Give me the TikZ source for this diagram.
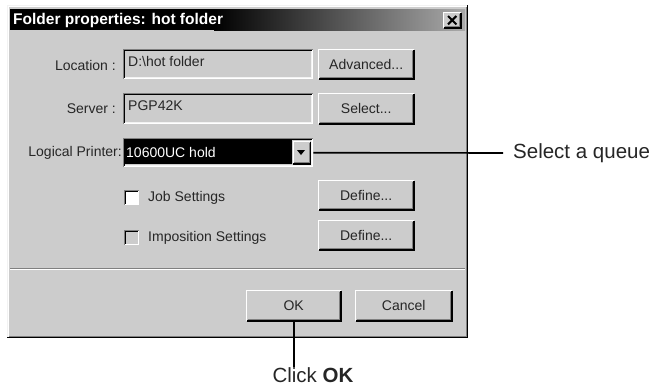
\documentclass[tikz,border=0pt]{standalone}
\usepackage{fontspec}
\setmainfont{Liberation Sans}
\begin{document}
\begin{tikzpicture}[x=1bp,y=-1bp,
  dlgtext/.style={font=\fontsize{14bp}{16bp}\selectfont, text=black!85, inner sep=0pt},
  callout/.style={font=\fontsize{20.5bp}{24bp}\selectfont, text=black!85, inner sep=0pt},
  btn/.style={fill=wingray, draw=none, inner sep=0pt, anchor=north west,
    font=\fontsize{14bp}{16bp}\selectfont, text=black!85},
  field/.style={fill=wingray, draw=none, inner sep=0pt, anchor=north west},
  leader/.style={line width=1.6pt, black}
]
\definecolor{wingray}{RGB}{204,204,204}
\definecolor{windark}{RGB}{128,128,128}
\useasboundingbox (0,0) rectangle (654,391);
\fill[white] (0,0) rectangle (654,391);
% dialog frame
\fill[wingray] (7,5) rectangle (468,338);
\draw[line width=1bp, white!90!gray] (7.5,337.5) |- (467.5,5.5);
\draw[line width=1bp, white] (8.5,336.5) |- (466.5,6.5);
\draw[line width=1.2bp, black] (7,337.5) -| (467.5,5);
\draw[line width=1bp, windark] (8.5,336.5) -| (466.5,6.5);
% title bar
\fill[black] (10,9) rectangle (215,30);
\shade[left color=black, right color={rgb,255:red,170;green,170;blue,170}] (214,9) rectangle (465,30);
\node[anchor=west, inner sep=0pt, text=white, font=\bfseries\fontsize{15.5bp}{17bp}\selectfont] (title) at (13,20) {Folder properties: hot folder};
% close button
\node[btn, minimum width=18bp, minimum height=16bp] (close) at (443,12) {};
\draw[line width=2bp, black] ([shift={(5,4)}]close.north west) -- ([shift={(-5,-4)}]close.south east);
\draw[line width=2bp, black] ([shift={(-5,4)}]close.north east) -- ([shift={(5,-4)}]close.south west);
% labels
\node[dlgtext, anchor=east] (loclbl) at (116,65) {Location :};
\node[dlgtext, anchor=east] (srvlbl) at (116,109) {Server :};
\node[dlgtext, anchor=east] (prnlbl) at (122,153) {Logical Printer:};
% fields
\node[field, minimum width=190bp, minimum height=30bp] (locfld) at (123,49) {};
\node[dlgtext, anchor=west] (loctxt) at (128,61) {D:\textbackslash hot folder};
\node[field, minimum width=190bp, minimum height=31bp] (srvfld) at (123,93) {};
\node[dlgtext, anchor=west] (srvtxt) at (128,106) {PGP42K};
\node[field, minimum width=190bp, minimum height=29bp] (prnfld) at (123,138) {};
\fill[black] (125,140) rectangle (292,164);
\node[dlgtext, anchor=west, text=white] (prntxt) at (126,152.5) {10600UC hold};
\node[btn, minimum width=18bp, minimum height=23bp] (arrow) at (292.5,141) {};
\fill[black] (297,150) -- (305,150) -- (301,155) -- cycle;
% sunken edges
\foreach \f in {locfld,srvfld,prnfld}{
  \draw[line width=1bp, windark] ([shift={(0.5,-0.5)}]\f.south west) |- ([shift={(-0.5,0.5)}]\f.north east);
  \draw[line width=1bp, black] ([shift={(1.5,-1.5)}]\f.south west) |- ([shift={(-1.5,1.5)}]\f.north east);
  \draw[line width=1bp, white] ([shift={(0.5,-0.5)}]\f.south west) -| ([shift={(-0.5,0.5)}]\f.north east);
  \draw[line width=1bp, white!90!gray] ([shift={(1.5,-1.5)}]\f.south west) -| ([shift={(-1.5,1.5)}]\f.north east);
}
% buttons
\node[btn, minimum width=96bp, minimum height=30bp] (adv) at (318,49) {Advanced...};
\node[btn, minimum width=96bp, minimum height=31bp] (sel) at (318,93) {Select...};
\node[btn, minimum width=96bp, minimum height=30bp] (def1) at (318,180) {Define...};
\node[btn, minimum width=96bp, minimum height=30bp] (def2) at (318,220) {Define...};
\node[btn, minimum width=95bp, minimum height=31bp] (ok) at (246,290) {OK};
\node[btn, minimum width=97bp, minimum height=31bp] (cancel) at (355,290) {Cancel};
\foreach \b in {adv,sel,def1,def2,ok,cancel,close,arrow}{
  \draw[line width=1bp, white] ([shift={(0.5,-0.5)}]\b.south west) |- ([shift={(-0.5,0.5)}]\b.north east);
  \draw[line width=1.2bp, black] ([shift={(0.5,-0.5)}]\b.south west) -| ([shift={(-0.5,0.5)}]\b.north east);
  \draw[line width=1bp, windark] ([shift={(1.5,-1.5)}]\b.south west) -| ([shift={(-1.5,1.5)}]\b.north east);
}
% checkboxes
\node[field, fill=white, minimum width=15bp, minimum height=15bp] (cb1) at (124,190) {};
\node[field, minimum width=15bp, minimum height=15bp] (cb2) at (124,230) {};
\foreach \c in {cb1,cb2}{
  \draw[line width=1bp, windark] ([shift={(0.5,-0.5)}]\c.south west) |- ([shift={(-0.5,0.5)}]\c.north east);
  \draw[line width=1bp, black] ([shift={(1.5,-1.5)}]\c.south west) |- ([shift={(-1.5,1.5)}]\c.north east);
  \draw[line width=1bp, white] ([shift={(0.5,-0.5)}]\c.south west) -| ([shift={(-0.5,0.5)}]\c.north east);
}
\node[dlgtext, anchor=west] (cb1txt) at (148,198) {Job Settings};
\node[dlgtext, anchor=west] (cb2txt) at (148,238) {Imposition Settings};
% separator
\draw[line width=1bp, windark] (10,268.5) -- (465,268.5);
\draw[line width=1bp, white] (10,269.5) -- (465,269.5);
% callouts
\node[callout, anchor=west] (queue) at (513,153) {Select a queue};
\draw[leader] (prnfld.east) -- (queue.west -| 503,0);
\node[callout, anchor=north] (click) at (313,367) {Click \textbf{OK}};
\draw[leader] (ok.south) -- (ok.south |- click.north);
\end{tikzpicture}
\end{document}
